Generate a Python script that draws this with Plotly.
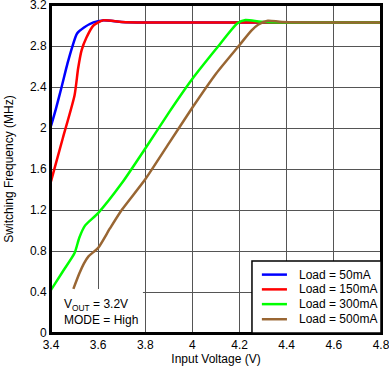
import plotly.graph_objects as go

blue_x = [3.40, 3.42, 3.445, 3.47, 3.49, 3.51, 3.54, 3.58, 3.62, 3.70, 3.80, 4.80]
blue_y = [2.02, 2.18, 2.40, 2.63, 2.79, 2.92, 2.98, 3.03, 3.05, 3.035, 3.03, 3.03]

red_x = [3.40, 3.45, 3.50, 3.515, 3.53, 3.55, 3.58, 3.62, 3.70, 3.80, 4.80]
red_y = [1.48, 1.90, 2.32, 2.58, 2.76, 2.88, 3.00, 3.05, 3.035, 3.03, 3.03]

green_x = [3.40, 3.45, 3.50, 3.52, 3.545, 3.60, 3.70, 3.80, 3.90, 4.00, 4.10, 4.19, 4.225, 4.29, 4.40, 4.80]
green_y = [0.42, 0.60, 0.78, 0.93, 1.05, 1.17, 1.46, 1.80, 2.15, 2.48, 2.77, 3.02, 3.054, 3.037, 3.03, 3.03]

brown_x = [3.495, 3.52, 3.54, 3.56, 3.60, 3.65, 3.70, 3.80, 3.90, 4.00, 4.10, 4.20, 4.25, 4.28, 4.32, 4.38, 4.80]
brown_y = [0.43, 0.58, 0.68, 0.75, 0.83, 1.02, 1.20, 1.50, 1.85, 2.20, 2.53, 2.81, 2.95, 3.01, 3.047, 3.035, 3.03]

names = ["Load = 50mA", "Load = 150mA", "Load = 300mA", "Load = 500mA"]
colors = ["#0000FF", "#FF0000", "#00FF00", "#996633"]

x_ticks = [3.4, 3.6, 3.8, 4.0, 4.2, 4.4, 4.6, 4.8]
x_tick_text = ["3.4", "3.6", "3.8", "4", "4.2", "4.4", "4.6", "4.8"]
y_ticks = [0, 0.4, 0.8, 1.2, 1.6, 2.0, 2.4, 2.8, 3.2]
y_tick_text = ["0", "0.4", "0.8", "1.2", "1.6", "2", "2.4", "2.8", "3.2"]

FONT = "Liberation Sans, Arial, sans-serif"

fig = go.Figure()
for xs, ys, n, c in zip([blue_x, red_x, green_x, brown_x],
                        [blue_y, red_y, green_y, brown_y], names, colors):
    fig.add_trace(go.Scatter(x=xs, y=ys, mode="lines", name=n, showlegend=False,
                             line=dict(color=c, width=2.5, shape="spline", smoothing=0.6)))

# white box covering grid behind the condition text
fig.add_shape(type="rect", xref="x", yref="y", x0=3.4, x1=3.79, y0=0, y1=0.43,
              fillcolor="white", line=dict(width=0), layer="between")

fig.add_annotation(xref="x", yref="y", x=3.445, y=0.37, xanchor="left", yanchor="top",
                   text="V<sub>OUT</sub> = 3.2V<br>MODE = High", align="left",
                   showarrow=False, font=dict(family=FONT, size=12, color="black"))

# plot frame
fig.add_shape(type="rect", xref="paper", yref="paper", x0=0, x1=1, y0=0, y1=1,
              fillcolor="rgba(0,0,0,0)", line=dict(color="black", width=2), layer="above")

# legend box (drawn manually to match compact spacing)
fig.add_shape(type="rect", xref="paper", yref="paper", x0=0.609, x1=1.0, y0=0.0, y1=0.2195,
              fillcolor="white", line=dict(color="black", width=1.5), layer="above")
row_y = [0.178, 0.133, 0.088, 0.042]
for n, c, ry in zip(names, colors, row_y):
    fig.add_shape(type="line", xref="paper", yref="paper", x0=0.639, x1=0.715, y0=ry, y1=ry,
                  line=dict(color=c, width=2.5), layer="above")
    fig.add_annotation(xref="paper", yref="paper", x=0.745, y=ry, xanchor="left", yanchor="middle",
                       text=n, showarrow=False, font=dict(family=FONT, size=12, color="black"))

fig.update_layout(
    width=389, height=366,
    margin=dict(l=51, r=8, t=5, b=33, autoexpand=False),
    paper_bgcolor="white", plot_bgcolor="white",
    font=dict(family=FONT, size=12, color="black"),
    showlegend=False,
)
fig.update_xaxes(range=[3.4, 4.8], tickvals=x_ticks, ticktext=x_tick_text,
                 showgrid=True, gridcolor="#555555", gridwidth=1,
                 showline=True, linecolor="black", linewidth=2, mirror=True,
                 ticks="", zeroline=False, automargin=False, ticklabeloverflow="allow",
                 title=dict(text="Input Voltage (V)", font=dict(size=12), standoff=2))
fig.update_yaxes(range=[0, 3.2], tickvals=y_ticks, ticktext=y_tick_text,
                 showgrid=True, gridcolor="#555555", gridwidth=1,
                 showline=True, linecolor="black", linewidth=2, mirror=True,
                 ticks="", zeroline=False, automargin=False, ticklabeloverflow="allow",
                 title=dict(text="Switching Frequency (MHz)", font=dict(size=12), standoff=14))

fig.write_html("out.html", config={"displayModeBar": False},
               post_script="document.body.style.margin='0';")
